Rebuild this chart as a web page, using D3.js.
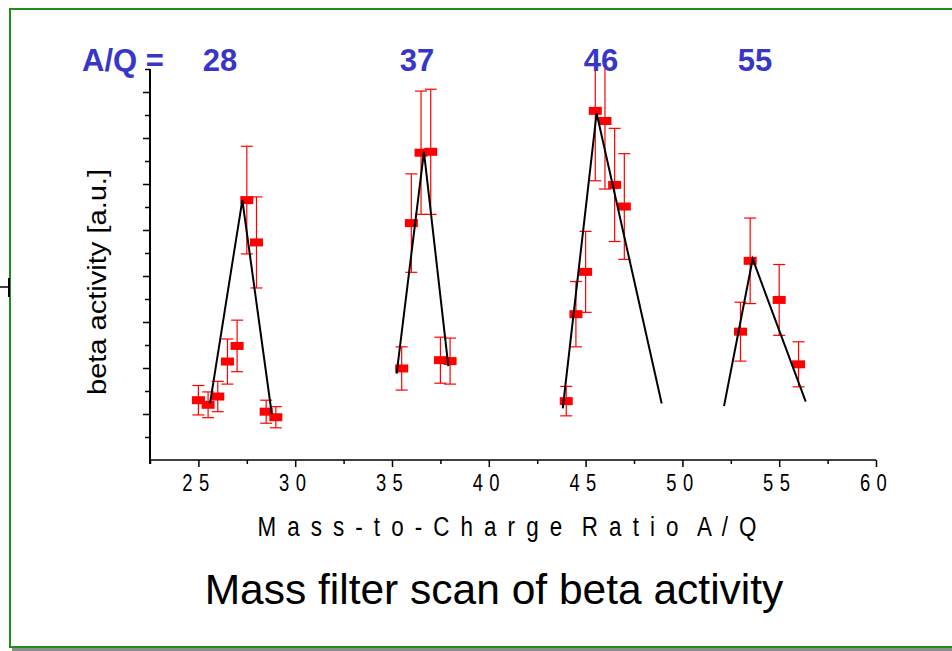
<!DOCTYPE html>
<html>
<head>
<meta charset="utf-8">
<script src="https://cdn.jsdelivr.net/npm/d3@7"></script>
<style>
  html, body { margin: 0; padding: 0; background: #fff; }
  svg { display: block; }
</style>
</head>
<body>
<div id="chart"></div>
<script>
// measured points: mass-to-charge ratio, beta activity, error (+/-)
const scanX = [25, 25.5, 26, 26.5, 27, 27.5, 28, 28.5, 29,
    35.5, 36, 36.5, 37, 37.5, 38,
    44, 44.5, 45, 45.5, 46, 46.5, 47,
    53, 53.5, 55, 56];
const activity = [1.30, 1.20, 1.38, 2.14, 2.48, 5.65, 4.73, 1.05, 0.93,
    1.99, 5.15, 6.68, 6.70, 2.17, 2.15,
    1.28, 3.17, 4.09, 7.59, 7.37, 5.98, 5.51,
    2.79, 4.33, 3.48, 2.08];
const activityErr = [0.32, 0.28, 0.33, 0.49, 0.56, 1.17, 0.99, 0.25, 0.23,
    0.47, 1.07, 1.34, 1.36, 0.50, 0.50,
    0.32, 0.71, 0.88, 1.52, 1.48, 1.23, 1.15,
    0.64, 0.93, 0.77, 0.49];

// triangular fits, one per peak
const fitX = [[25.60, 27.27, 28.79], [35.24, 36.65, 37.91],
    [43.82, 45.57, 48.93], [52.15, 53.63, 56.37]];
const fitY = [[1.23, 5.65, 1.00], [1.88, 6.70, 2.04],
    [1.12, 7.54, 1.23], [1.17, 4.37, 1.27]];

// peak annotations
const peakLabels = ["28", "37", "46", "55"];
const peakLabelX = [26.12, 36.29, 45.80, 53.75];

const xMajorTicks = [25, 30, 35, 40, 45, 50, 55, 60];
const xMinorTicks = d3.range(22.5, 60, 5);
const yMajorTicks = d3.range(1, 9, 1);
const yMinorTicks = d3.range(0.5, 8.6, 1);

const W = 952, H = 651;
const plotLeft = 150, plotRight = 876, plotTop = 69, plotBottom = 460;
const narrow = 0.8; // axis texts are a condensed face

const svg = d3.select("#chart").append("svg")
    .attr("width", W)
    .attr("height", H)
    .attr("viewBox", [0, 0, W, H]);

// slide frame with shadow
svg.append("rect")
    .attr("x", 12).attr("y", 647)
    .attr("width", W).attr("height", 5)
    .attr("fill", "#8c8c8c");
svg.append("rect")
    .attr("x", 10).attr("y", 9)
    .attr("width", W + 10).attr("height", 638)
    .attr("fill", "#fff")
    .attr("stroke", "#1e8c1e")
    .attr("stroke-width", 2);
svg.append("line")
    .attr("x1", 0).attr("x2", 9).attr("y1", 287).attr("y2", 287)
    .attr("stroke", "#000").attr("stroke-width", 1.5);
svg.append("line")
    .attr("x1", 9).attr("x2", 9).attr("y1", 278).attr("y2", 297)
    .attr("stroke", "#000").attr("stroke-width", 2);

const x = d3.scaleLinear().domain([22.5, 60]).range([plotLeft, plotRight]);
const y = d3.scaleLinear().domain([0, 8.5]).range([plotBottom, plotTop]);

svg.append("clipPath").attr("id", "plotClip")
    .append("rect")
    .attr("x", plotLeft).attr("y", plotTop)
    .attr("width", plotRight - plotLeft + 20).attr("height", plotBottom - plotTop);

// x axis
const xAxisMinor = d3.axisBottom(x).tickValues(xMinorTicks)
    .tickSize(4).tickFormat("");
const xAxisMajor = d3.axisBottom(x).tickValues(xMajorTicks)
    .tickSize(7).tickPadding(8).tickFormat(d3.format("d"));

svg.append("g")
    .attr("transform", `translate(0, ${plotBottom})`)
    .call(xAxisMinor)
    .call(g => g.select(".domain").remove())
    .call(g => g.selectAll("line").attr("stroke", "#000").attr("stroke-width", 1.5));

svg.append("g")
    .attr("transform", `translate(0, ${plotBottom})`)
    .call(xAxisMajor)
    .call(g => g.select(".domain")
        .attr("d", `M${plotLeft},0H${plotRight}`)
        .attr("stroke", "#000").attr("stroke-width", 1.5))
    .call(g => g.selectAll("line").attr("stroke", "#000").attr("stroke-width", 1.5))
    .call(g => g.selectAll("text")
        .attr("fill", "#000")
        .attr("transform", `scale(${narrow}, 1)`)
        .attr("font-family", "'Liberation Sans', Arial, sans-serif")
        .attr("font-size", 23)
        .attr("letter-spacing", 8)
        .attr("dy", "0.71em"));

// y axis (no labels)
const yAxisMinor = d3.axisLeft(y).tickValues(yMinorTicks)
    .tickSize(5).tickFormat("");
const yAxisMajor = d3.axisLeft(y).tickValues(yMajorTicks)
    .tickSize(7).tickFormat("");

svg.append("g")
    .attr("transform", `translate(${plotLeft}, 0)`)
    .call(yAxisMinor)
    .call(g => g.select(".domain").remove())
    .call(g => g.selectAll("line").attr("stroke", "#000").attr("stroke-width", 1.5));

svg.append("g")
    .attr("transform", `translate(${plotLeft}, 0)`)
    .call(yAxisMajor)
    .call(g => g.select(".domain")
        .attr("d", `M0,${plotTop}V${plotBottom + 4}`)
        .attr("stroke", "#000").attr("stroke-width", 2))
    .call(g => g.selectAll("line").attr("stroke", "#000").attr("stroke-width", 1.5));

// data
const points = scanX.map((v, i) => ({ x: v, y: activity[i], e: activityErr[i] }));
const plot = svg.append("g").attr("clip-path", "url(#plotClip)");

const err = plot.selectAll(".err").data(points).enter().append("g")
    .attr("class", "err")
    .attr("stroke", "#ff0000")
    .attr("stroke-width", 1.2);
err.append("line")
    .attr("x1", d => x(d.x)).attr("x2", d => x(d.x))
    .attr("y1", d => y(d.y + d.e)).attr("y2", d => y(d.y - d.e));
err.append("line")
    .attr("x1", d => x(d.x) - 6).attr("x2", d => x(d.x) + 6)
    .attr("y1", d => y(d.y + d.e)).attr("y2", d => y(d.y + d.e));
err.append("line")
    .attr("x1", d => x(d.x) - 6).attr("x2", d => x(d.x) + 6)
    .attr("y1", d => y(d.y - d.e)).attr("y2", d => y(d.y - d.e));

plot.selectAll(".pt").data(points).enter().append("rect")
    .attr("class", "pt")
    .attr("x", d => x(d.x) - 6.5)
    .attr("y", d => y(d.y) - 4)
    .attr("width", 13)
    .attr("height", 8)
    .attr("fill", "#ff0000");

const fitLine = d3.line()
    .x(d => x(d[0]))
    .y(d => y(d[1]));

plot.selectAll(".fit").data(fitX.map((xs, k) => xs.map((v, j) => [v, fitY[k][j]])))
    .enter().append("path")
    .attr("class", "fit")
    .attr("fill", "none")
    .attr("stroke", "#000")
    .attr("stroke-width", 2)
    .attr("d", d => fitLine(d));

// annotations
const blue = "#3636c8";
svg.append("text")
    .attr("x", 123).attr("y", 71)
    .attr("text-anchor", "middle")
    .attr("font-family", "'Liberation Sans', Arial, sans-serif")
    .attr("font-weight", "bold")
    .attr("font-size", 31)
    .attr("fill", blue)
    .text("A/Q =");

svg.selectAll(".peak").data(peakLabels).enter().append("text")
    .attr("class", "peak")
    .attr("x", (d, i) => x(peakLabelX[i]))
    .attr("y", 71)
    .attr("text-anchor", "middle")
    .attr("font-family", "'Liberation Sans', Arial, sans-serif")
    .attr("font-weight", "bold")
    .attr("font-size", 31)
    .attr("fill", blue)
    .text(d => d);

svg.append("g")
    .attr("transform", `translate(507, 536) scale(${narrow}, 1)`)
    .append("text")
    .attr("text-anchor", "middle")
    .attr("xml:space", "preserve")
    .style("white-space", "pre")
    .attr("font-family", "'Liberation Sans', Arial, sans-serif")
    .attr("font-size", 28)
    .attr("textLength", 499 / narrow)
    .attr("lengthAdjust", "spacing")
    .text("M a s s - t o - C h a r g e  R a t i o  A / Q");

svg.append("text")
    .attr("transform", "translate(106, 282) rotate(-90)")
    .attr("text-anchor", "middle")
    .attr("font-family", "'Liberation Sans', Arial, sans-serif")
    .attr("font-size", 25)
    .attr("textLength", 226)
    .attr("lengthAdjust", "spacingAndGlyphs")
    .text("beta activity [a.u.]");

svg.append("text")
    .attr("x", 494).attr("y", 604)
    .attr("text-anchor", "middle")
    .attr("font-family", "'Liberation Sans', Arial, sans-serif")
    .attr("font-size", 42.5)
    .attr("fill", "#000")
    .text("Mass filter scan of beta activity");
</script>
</body>
</html>
